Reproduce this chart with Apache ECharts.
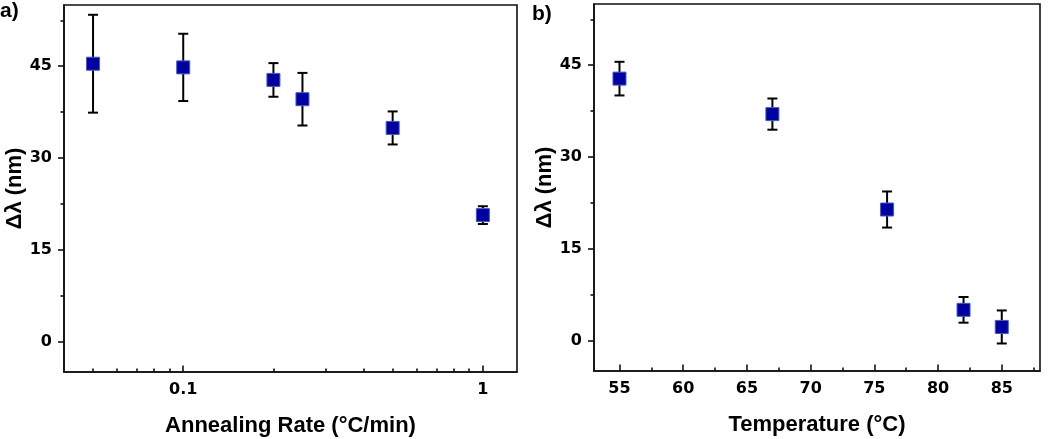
<!DOCTYPE html>
<html><head><meta charset="utf-8">
<script src="https://cdn.jsdelivr.net/npm/echarts@6/dist/echarts.min.js"></script>
<style>html,body{margin:0;padding:0;background:#fff}#c{width:1050px;height:439px}</style>
</head><body><div id="c"></div>
<script>
// Panel a) : annealing rate (°C/min)
const rateA = [0.05, 0.1, 0.2, 0.25, 0.5, 1];
const shiftA = [45.4, 44.8, 42.75, 39.6, 34.9, 20.65];
const errA = [8.0, 5.5, 2.75, 4.3, 2.7, 1.45];
// Panel b) : temperature (°C)
const tempB = [55, 67, 76, 82, 85];
const shiftB = [42.8, 37.0, 21.4, 5.0, 2.2];
const errB = [2.75, 2.55, 2.95, 2.1, 2.7];
// tick labels
const yTicks = [0, 15, 30, 45];
const yMinor = [7.5, 22.5, 37.5, 52.5];
const xTicksA = [0.1, 1];
const xMinorA = [0.05, 0.06, 0.07, 0.08, 0.09, 0.2, 0.3, 0.4, 0.5, 0.6, 0.7, 0.8, 0.9];
const xTicksB = [55, 60, 65, 70, 75, 80, 85];
const xMinorB = [57.5, 62.5, 67.5, 72.5, 77.5, 82.5, 87.5];

const TF = 'DejaVu Sans';
const NF = 'Liberation Sans';
const lineStyle = {color: '#111', width: 1.6};
const tickLabel = {color: '#000', fontFamily: TF, fontWeight: 'bold', fontSize: 16};
const nameStyle = {color: '#000', fontFamily: NF, fontWeight: 'bold', fontSize: 22};

function errData(xs, ys, es) { return xs.map((x, i) => [x, ys[i] - es[i], ys[i] + es[i]]); }
function renderErr(params, api) {
  const x = api.value(0);
  const lo = api.coord([x, api.value(1)]);
  const hi = api.coord([x, api.value(2)]);
  const w = 5;
  const st = {stroke: '#000', lineWidth: 2};
  return {type: 'group', children: [
    {type: 'line', shape: {x1: lo[0], y1: lo[1], x2: hi[0], y2: hi[1]}, style: st},
    {type: 'line', shape: {x1: lo[0] - w, y1: lo[1], x2: lo[0] + w, y2: lo[1]}, style: st},
    {type: 'line', shape: {x1: hi[0] - w, y1: hi[1], x2: hi[0] + w, y2: hi[1]}, style: st}
  ]};
}

function yAxes(grid) {
  return [
    {gridIndex: grid, type: 'value', min: -5, max: 55, position: 'left',
     name: 'Δλ (nm)', nameLocation: 'middle', nameRotate: 90, nameGap: 38, nameTextStyle: nameStyle,
     axisLine: {show: true, onZero: false, lineStyle}, splitLine: {show: false},
     axisTick: {show: true, inside: false, length: 6, lineStyle, customValues: yTicks},
     axisLabel: Object.assign({margin: 12, customValues: yTicks}, tickLabel)},
    {gridIndex: grid, type: 'value', min: -5, max: 55, position: 'left',
     axisLine: {show: false, onZero: false}, splitLine: {show: false}, axisLabel: {show: false},
     axisTick: {show: true, inside: false, length: 3.5, lineStyle, customValues: yMinor}}
  ];
}

const option = {
  animation: false,
  grid: [
    {left: 64, top: 5, width: 453, height: 367, show: true, borderColor: '#111', borderWidth: 1.6,
     outerBoundsMode: 'none', containLabel: false},
    {left: 594, top: 4, width: 446, height: 367, show: true, borderColor: '#111', borderWidth: 1.6,
     outerBoundsMode: 'none', containLabel: false}
  ],
  xAxis: [
    {gridIndex: 0, type: 'log', logBase: 10, min: 0.04, max: 1.3, position: 'bottom',
     name: 'Annealing Rate (°C/min)', nameLocation: 'middle', nameGap: 43, nameTextStyle: nameStyle,
     axisLine: {show: true, onZero: false, lineStyle}, splitLine: {show: false},
     axisTick: {show: true, inside: true, length: 6.5, lineStyle, customValues: xTicksA},
     axisLabel: Object.assign({margin: 10, customValues: xTicksA, formatter: v => String(v)}, tickLabel)},
    {gridIndex: 0, type: 'log', logBase: 10, min: 0.04, max: 1.3, position: 'bottom',
     axisLine: {show: false, onZero: false}, splitLine: {show: false}, axisLabel: {show: false},
     axisTick: {show: true, inside: true, length: 3.5, lineStyle, customValues: xMinorA}},
    {gridIndex: 1, type: 'value', min: 53, max: 88, position: 'bottom',
     name: 'Temperature (°C)', nameLocation: 'middle', nameGap: 43, nameTextStyle: nameStyle,
     axisLine: {show: true, onZero: false, lineStyle}, splitLine: {show: false},
     axisTick: {show: true, inside: true, length: 6.5, lineStyle, customValues: xTicksB},
     axisLabel: Object.assign({margin: 10, customValues: xTicksB}, tickLabel)},
    {gridIndex: 1, type: 'value', min: 53, max: 88, position: 'bottom',
     axisLine: {show: false, onZero: false}, splitLine: {show: false}, axisLabel: {show: false},
     axisTick: {show: true, inside: true, length: 3.5, lineStyle, customValues: xMinorB}}
  ],
  yAxis: yAxes(0).concat(yAxes(1)),
  graphic: [
    {type: 'text', left: 0, top: 1, style: {text: 'a)', font: 'bold 21px "Liberation Sans"', fill: '#000'}},
    {type: 'text', left: 532, top: 4, style: {text: 'b)', font: 'bold 21px "Liberation Sans"', fill: '#000'}}
  ],
  series: [
    {type: 'custom', xAxisIndex: 0, yAxisIndex: 0, renderItem: renderErr, data: errData(rateA, shiftA, errA), z: 2},
    {type: 'scatter', xAxisIndex: 0, yAxisIndex: 0, symbol: 'rect', symbolSize: 13,
     itemStyle: {color: '#0000a0', borderColor: '#3d5ad6', borderWidth: 1, opacity: 1},
     data: rateA.map((x, i) => [x, shiftA[i]]), z: 3},
    {type: 'custom', xAxisIndex: 2, yAxisIndex: 2, renderItem: renderErr, data: errData(tempB, shiftB, errB), z: 2},
    {type: 'scatter', xAxisIndex: 2, yAxisIndex: 2, symbol: 'rect', symbolSize: 13,
     itemStyle: {color: '#0000a0', borderColor: '#3d5ad6', borderWidth: 1, opacity: 1},
     data: tempB.map((x, i) => [x, shiftB[i]]), z: 3}
  ]
};
echarts.init(document.getElementById('c'), null, {renderer: 'canvas'}).setOption(option);
</script></body></html>
